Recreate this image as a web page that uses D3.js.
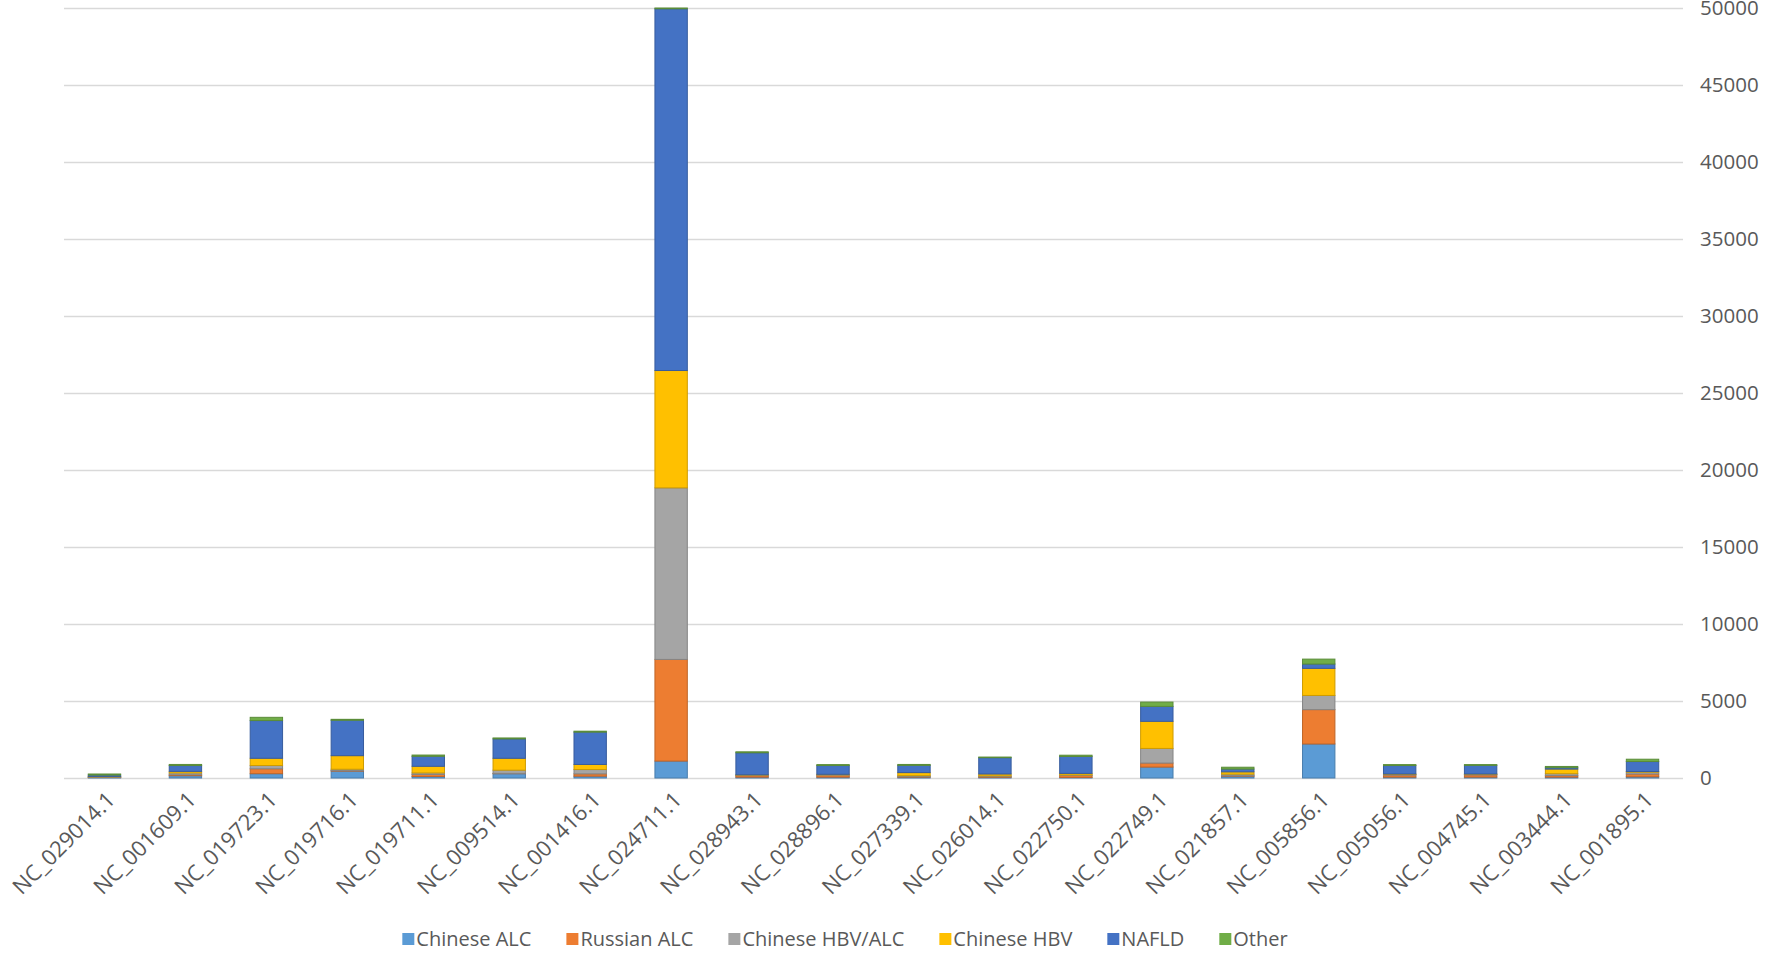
<!DOCTYPE html>
<html>
<head>
<meta charset="utf-8">
<script src="https://cdn.jsdelivr.net/npm/d3@7"></script>
<style>
  html, body { margin: 0; padding: 0; background: #ffffff; }
  svg { display: block; }
  text { font-family: "Open Sans", sans-serif; fill: #595959; }
</style>
</head>
<body>
<svg id="chart" width="1771" height="962"></svg>
<script>
// ---- data ----
const categories = ["NC_029014.1","NC_001609.1","NC_019723.1","NC_019716.1","NC_019711.1",
  "NC_009514.1","NC_001416.1","NC_024711.1","NC_028943.1","NC_028896.1",
  "NC_027339.1","NC_026014.1","NC_022750.1","NC_022749.1","NC_021857.1",
  "NC_005856.1","NC_005056.1","NC_004745.1","NC_003444.1","NC_001895.1"];
const seriesNames = ["Chinese ALC","Russian ALC","Chinese HBV/ALC","Chinese HBV","NAFLD","Other"];
const seriesColors = ["#5B9BD5","#ED7D31","#A5A5A5","#FFC000","#4472C4","#70AD47"];

const chineseALC   = [30, 150, 280, 450, 100, 280, 120, 1100, 60, 60, 60, 50, 40, 710, 120, 2210, 60, 60, 60, 80];
const russianALC   = [20, 60, 320, 40, 130, 20, 150, 6600, 100, 120, 30, 40, 130, 260, 30, 2230, 130, 140, 100, 180];
const chineseHBVALC= [20, 120, 210, 80, 100, 210, 280, 11140, 30, 30, 60, 50, 30, 950, 100, 920, 40, 40, 120, 120];
const chineseHBV   = [20, 100, 470, 880, 430, 770, 330, 7620, 20, 30, 200, 120, 100, 1760, 150, 1760, 30, 20, 300, 40];
const nafld        = [100, 380, 2450, 2300, 650, 1260, 2100, 23490, 1430, 570, 470, 1060, 1100, 970, 180, 280, 550, 560, 90, 650];
const other        = [70, 70, 210, 60, 80, 60, 60, 50, 60, 60, 60, 40, 80, 280, 120, 320, 60, 50, 80, 150];

const yTicks = [0,5000,10000,15000,20000,25000,30000,35000,40000,45000,50000];

// ---- layout ----
const plotLeft = 64, plotRight = 1683, plotTop = 8, plotBottom = 778;
const svg = d3.select("#chart");

const seriesValues = [chineseALC, russianALC, chineseHBVALC, chineseHBV, nafld, other];
const table = categories.map((c, i) => {
  const row = { cat: c };
  seriesNames.forEach((s, j) => row[s] = seriesValues[j][i]);
  return row;
});

const x = d3.scaleBand().domain(categories).range([plotLeft, plotRight])
  .paddingInner(0.6).paddingOuter(0.3);
const y = d3.scaleLinear().domain([0, 50000]).range([plotBottom, plotTop]);

// gridlines
svg.append("g").selectAll("line").data(yTicks).join("line")
  .attr("x1", plotLeft).attr("x2", plotRight)
  .attr("y1", d => y(d) + 0.5).attr("y2", d => y(d) + 0.5)
  .attr("stroke", "#d9d9d9").attr("stroke-width", 1.3);

// y labels (right side)
const yAxis = d3.axisRight(y).tickValues(yTicks).tickSize(0).tickPadding(0)
  .tickFormat(d3.format("d"));
const yg = svg.append("g").attr("transform", `translate(${plotRight + 17},0)`).call(yAxis);
yg.select(".domain").remove();
yg.selectAll("text").style("font-size", "20.5px").attr("fill", "#595959")
  .style("font-family", '"Open Sans", sans-serif');

// stacked bars
const stack = d3.stack().keys(seriesNames);
const layers = stack(table);
svg.append("g").selectAll("g").data(layers).join("g")
  .attr("fill", (d, i) => seriesColors[i])
  .attr("stroke", (d, i) => d3.color(seriesColors[i]).darker(0.6))
  .attr("stroke-width", 1)
  .selectAll("rect").data(d => d).join("rect")
  .attr("x", d => x(d.data.cat))
  .attr("width", x.bandwidth())
  .attr("y", d => y(d[1]))
  .attr("height", d => Math.max(0, y(d[0]) - y(d[1])));

// x labels rotated
const xAxis = d3.axisBottom(x).tickSize(0).tickPadding(0);
const xg = svg.append("g").attr("transform", `translate(0,${plotBottom})`).call(xAxis);
xg.select(".domain").remove();
xg.selectAll("text")
  .style("font-size", "22px").attr("fill", "#595959")
  .style("font-family", '"Open Sans", sans-serif')
  .attr("text-anchor", "end")
  .attr("dy", null).attr("y", null)
  .attr("transform", "translate(12,23) rotate(-45)");

// legend
const legend = svg.append("g").attr("class", "legend");
const items = legend.selectAll("g").data(seriesNames).join("g");
items.append("rect").attr("width", 12).attr("height", 12).attr("y", -6)
  .attr("fill", (d, i) => seriesColors[i]);
items.append("text").attr("x", 14).attr("y", 0).attr("dy", "0.35em")
  .style("font-size", "20px").text(d => d);
let cx = 0;
const gap = 35;
items.each(function() {
  const g = d3.select(this);
  g.attr("transform", `translate(${cx},0)`);
  const w = 14 + g.select("text").node().getComputedTextLength();
  cx += w + gap;
});
const totalW = cx - gap;
legend.attr("transform", `translate(${845 - totalW / 2},939)`);
</script>
</body>
</html>
